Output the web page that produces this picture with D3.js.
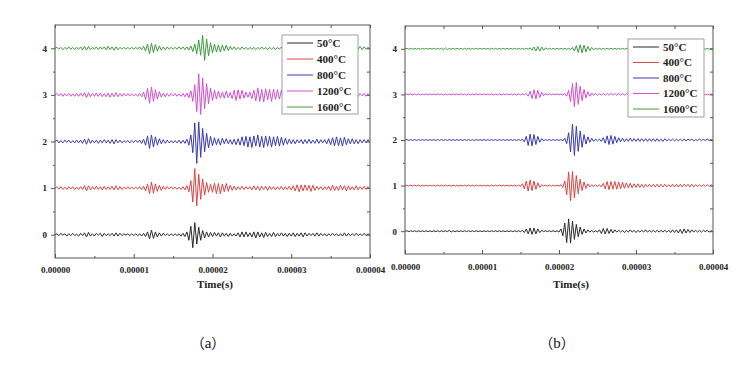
<!DOCTYPE html>
<html>
<head>
<meta charset="utf-8">
<script src="https://cdn.jsdelivr.net/npm/d3@7/dist/d3.min.js"></script>
<style>
  body { margin: 0; background: #fff; }
  text { font-family: "Liberation Serif", "Times New Roman", serif; }
</style>
</head>
<body>
<svg id="chart" width="750" height="370"></svg>
<script>
// labels / ticks
const seriesLabels = ["50°C", "400°C", "800°C", "1200°C", "1600°C"];
const seriesOffsets = [0, 1, 2, 3, 4];
const seriesColors = ["#2b2b2b", "#d94646", "#3a3ab0", "#d050d0", "#3f9a3f"];
const xTicks = [0, 1e-5, 2e-5, 3e-5, 4e-5];
const xMinorTicks = [0.5e-5, 1.5e-5, 2.5e-5, 3.5e-5];
const yTicks = [0, 1, 2, 3, 4];
const yMinorTicks = [0.5, 1.5, 2.5, 3.5];
const sampleStep = 2.5e-7;   // seconds between samples
const ampUnit = 0.01;        // samples are stored in hundredths

// (a) signals
const a50 = [0,2,-2,3,-1,2,-3,2,-2,3,-2,1,-3,3,-2,4,-5,5,-3,2,
  -3,3,-1,3,-4,3,-2,2,-2,3,-3,4,-3,3,-2,2,-1,2,-2,2,
  -2,2,-2,2,-3,3,-4,6,-9,10,-8,6,-5,4,-3,3,-2,2,-2,2,
  -2,2,-2,2,-3,3,-4,6,-12,18,-28,26,-20,16,-12,9,-7,6,-5,5,
  -4,5,-3,4,-5,4,-3,3,-4,3,-3,2,-3,4,-5,6,-5,6,-4,4,
  -5,6,-7,6,-5,4,-6,5,-4,3,-4,5,-4,3,-3,4,-3,3,-4,3,
  -3,4,-4,3,-3,4,-5,4,-3,3,-2,3,-3,4,-3,3,-2,2,-3,2,
  -2,3,-2,2,-3,2,-3,4,-3,3,-2,2,-2,3,-2,2,-2,3,-2,2,-1];
const a400 = [0,3,-2,3,-3,2,-3,3,-2,3,-3,2,-3,3,-3,5,-6,5,-4,3,
  -3,4,-3,3,-4,4,-3,3,-3,4,-4,5,-4,3,-3,2,-2,3,-2,2,
  -2,2,-2,3,-3,4,-6,9,-12,13,-11,9,-7,6,-5,4,-3,3,-2,3,
  -2,2,-3,2,-3,3,-4,5,-8,16,-30,42,-38,30,-24,20,-15,12,-9,8,
  -9,11,-12,10,-12,9,-8,10,-7,6,-5,4,-4,3,-3,4,-3,3,-2,3,
  -4,5,-4,4,-5,4,-3,4,-5,4,-3,3,-4,3,-3,4,-4,3,-3,4,
  -4,5,-6,7,-8,7,-6,7,-5,6,-7,6,-5,4,-3,3,-4,3,-3,4,
  -5,6,-5,4,-5,6,-4,5,-6,5,-4,3,-4,5,-4,3,-3,4,-3,3,-2];
const a800 = [0,3,-3,2,-3,3,-2,3,-3,2,-3,3,-3,3,-4,5,-6,6,-4,3,
  -3,3,-4,3,-3,4,-3,3,-4,4,-5,4,-3,3,-3,2,-2,2,-3,2,
  -2,3,-2,3,-4,5,-8,12,-15,14,-12,10,-8,6,-5,4,-4,3,-3,2,
  -3,2,-3,3,-4,3,-4,5,-8,14,-24,40,-47,42,-34,28,-22,18,-14,11,
  -9,8,-7,6,-8,7,-5,6,-5,4,-6,5,-7,6,-8,10,-9,11,-12,10,
  -13,12,-10,14,-12,11,-13,12,-10,11,-12,10,-9,11,-10,9,-8,7,-6,5,
  -5,4,-5,4,-3,4,-5,4,-4,5,-4,3,-4,5,-4,4,-3,4,-5,6,
  -7,8,-9,10,-9,8,-10,9,-7,6,-5,6,-5,4,-5,4,-3,4,-3,4,-3];
const a1200 = [0,3,-2,3,-3,3,-2,3,-3,2,-3,3,-3,4,-3,5,-6,5,-4,3,
  -3,4,-3,4,-4,3,-4,4,-5,4,-4,5,-4,3,-3,3,-2,3,-2,2,
  -2,2,-3,3,-4,6,-10,14,-18,17,-14,11,-9,7,-5,4,-4,3,-3,3,
  -2,3,-3,2,-3,3,-4,4,-6,9,-14,22,-36,45,-42,36,-30,24,-19,15,
  -12,10,-9,8,-7,6,-7,8,-6,5,-8,10,-12,11,-9,10,-7,6,-5,6,
  -8,10,-13,15,-14,12,-15,13,-11,12,-14,12,-10,11,-9,10,-8,9,-7,6,
  -5,6,-7,6,-5,4,-5,6,-5,4,-4,5,-4,3,-4,4,-3,4,-3,3,
  -4,3,-3,4,-3,3,-4,3,-3,4,-3,3,-4,3,-3,3,-2,3,-3,3,-2];
const a1600 = [0,2,-2,2,-3,2,-2,3,-2,2,-3,2,-2,3,-3,4,-4,4,-3,2,
  -2,3,-3,3,-2,3,-3,4,-3,3,-4,3,-3,2,-2,2,-2,2,-2,2,
  -2,2,-2,3,-3,4,-6,9,-12,11,-9,8,-6,5,-4,3,-3,3,-2,2,
  -2,2,-2,3,-2,3,-3,3,-4,5,-7,9,-12,18,-15,28,-26,20,-16,12,
  -10,9,-8,7,-8,7,-6,7,-5,4,-3,3,-3,2,-3,3,-2,2,-3,2,
  -2,2,-3,2,-2,3,-2,2,-3,2,-2,2,-3,2,-2,3,-2,2,-2,3,
  -2,2,-2,2,-3,2,-2,2,-2,3,-2,2,-2,2,-3,2,-2,2,-2,2,
  -2,3,-2,2,-2,2,-3,2,-2,2,-2,3,-2,2,-2,4,-3,3,-2,2,-2];

// (b) signals
const b50 = [0,1,-1,1,-1,1,-1,1,-1,1,-1,1,-1,1,-1,1,-1,1,-1,1,
  -1,1,-1,2,-2,1,-1,1,-1,1,-1,1,-1,1,-1,1,-1,1,-1,1,
  -1,1,-1,1,-1,1,-1,1,-1,1,-1,1,-1,1,-1,1,-1,1,-1,1,
  -1,2,-3,5,-6,7,-7,7,-6,5,-3,2,-1,1,-1,1,-1,1,-1,1,
  -2,5,-10,18,-25,27,-26,22,-18,15,-12,9,-7,5,-4,3,-2,2,-2,1,
  -2,3,-5,6,-6,6,-5,4,-4,3,-2,2,-2,2,-3,2,-2,3,-2,2,
  -3,2,-2,2,-2,3,-2,2,-2,2,-2,2,-2,2,-2,2,-2,2,-3,3,
  -3,3,-4,4,-5,5,-4,4,-3,3,-2,2,-2,2,-2,2,-1,2,-2,1,-1];
const b400 = [0,1,-1,1,-1,1,-1,1,-1,1,-1,1,-1,1,-1,1,-1,1,-1,1,
  -1,1,-1,1,-1,1,-1,1,-1,1,-1,1,-1,1,-1,1,-1,1,-1,1,
  -1,1,-1,1,-1,1,-1,1,-1,1,-1,1,-1,1,-1,1,-1,1,-1,1,
  -2,4,-7,10,-12,12,-11,10,-8,6,-4,2,-1,1,-1,1,-1,1,-1,1,
  -1,2,-4,10,-20,30,-33,31,-27,22,-18,14,-11,8,-6,4,-3,2,-2,2,
  -2,2,-3,5,-7,9,-9,9,-8,9,-8,8,-7,7,-6,6,-5,5,-5,4,
  -4,4,-4,3,-4,3,-3,3,-3,3,-3,3,-3,3,-3,3,-3,2,-3,3,
  -3,3,-3,3,-3,3,-2,3,-3,3,-3,2,-2,2,-2,2,-2,2,-2,2,-1];
const b800 = [0,1,-1,1,-1,1,-1,1,-1,1,-1,1,-1,1,-1,1,-1,1,-1,1,
  -1,1,-1,1,-1,1,-1,1,-1,1,-1,1,-1,1,-1,1,-1,1,-1,1,
  -1,1,-1,1,-1,1,-1,1,-1,1,-1,1,-1,1,-1,1,-1,1,-1,1,
  -1,2,-4,8,-12,13,-13,12,-10,8,-5,3,-2,1,-1,1,-1,1,-1,1,
  -1,1,-2,4,-8,16,-26,35,-34,30,-25,20,-16,12,-9,7,-5,4,-3,2,
  -2,2,-3,5,-7,9,-10,10,-9,8,-6,5,-4,4,-4,3,-3,4,-3,3,
  -3,3,-3,3,-3,3,-3,3,-3,3,-3,3,-3,2,-3,3,-2,2,-2,2,
  -2,2,-2,2,-2,2,-2,2,-1,2,-2,1,-1,2,-1,1,-1,2,-1,1,-1];
const b1200 = [0,1,-1,1,-1,1,-1,1,-1,1,-1,1,-1,1,-1,1,-1,1,-1,1,
  -1,1,-1,1,-1,1,-1,1,-1,1,-1,1,-1,1,-1,1,-1,1,-1,1,
  -1,1,-1,1,-1,1,-1,1,-1,1,-1,1,-1,1,-1,1,-1,1,-1,1,
  -1,1,-1,2,-4,7,-9,10,-10,9,-7,5,-3,2,-1,1,-1,1,-1,1,
  -1,1,-1,2,-4,9,-16,24,-27,26,-22,18,-14,11,-8,6,-4,3,-2,2,
  -2,2,-2,2,-2,2,-2,2,-2,2,-2,2,-2,2,-2,2,-2,2,-2,2,
  -1,1,-1,1,-1,1,-1,1,-1,1,-1,1,-1,1,-1,1,-1,1,-1,1,
  -1,1,-1,1,-1,1,-1,1,-1,1,-1,1,-1,1,-1,1,-1,1,-1,1,-1];
const b1600 = [0,1,-1,1,-1,1,-1,1,-1,1,-1,1,-1,1,-1,1,-1,1,-1,1,
  -2,2,-2,1,-1,1,-1,1,-1,1,-1,1,-1,1,-1,1,-1,1,-1,1,
  -1,1,-1,1,-1,1,-1,1,-1,1,-1,1,-1,1,-1,1,-1,1,-1,1,
  -1,1,-1,1,-1,2,-3,4,-5,5,-5,4,-3,2,-1,1,-1,1,-1,1,
  -1,1,-1,1,-1,1,-2,3,-5,7,-8,9,-9,8,-7,5,-4,3,-2,1,
  -1,1,-1,1,-1,1,-1,1,-1,1,-1,1,-1,1,-1,1,-1,1,-1,1,
  -1,1,-1,1,-1,1,-1,1,-1,1,-1,1,-1,1,-1,1,-1,1,-1,1,
  -1,1,-1,1,-1,1,-1,1,-1,1,-1,1,-1,1,-1,1,-1,1,-1,1,-1];

const panels = [
  {name: "a", series: [a50, a400, a800, a1200, a1600],
   box: {l: 55, r: 370, t: 25, b: 258}, tickY: 270, titleX: 215,
   legend: {x: 282, y: 35, w: 76, h: 79, row: 16},
   caption: {x: 208, y: 348}},
  {name: "b", series: [b50, b400, b800, b1200, b1600],
   box: {l: 405, r: 713, t: 26, b: 254}, tickY: 267, titleX: 571,
   legend: {x: 628, y: 39, w: 76, h: 78, row: 15.5},
   caption: {x: 557, y: 348}}
];

const svg = d3.select("#chart");
const axisColor = "#555";

panels.forEach(p => {
  const x = d3.scaleLinear().domain([0, 4e-5]).range([p.box.l, p.box.r]);
  const y = d3.scaleLinear().domain([-0.5, 4.5]).range([p.box.b, p.box.t]);
  const g = svg.append("g").attr("class", "panel-" + p.name);

  g.append("clipPath").attr("id", "clip-" + p.name)
    .append("rect")
    .attr("x", p.box.l).attr("y", p.box.t)
    .attr("width", p.box.r - p.box.l).attr("height", p.box.b - p.box.t);

  // traces
  const line = d3.line()
    .x((d, i) => x(i * sampleStep));
  const traces = g.append("g").attr("clip-path", "url(#clip-" + p.name + ")");
  p.series.forEach((vals, k) => {
    traces.append("path")
      .datum(vals)
      .attr("fill", "none")
      .attr("stroke", seriesColors[k])
      .attr("stroke-width", 1)
      .attr("stroke-linejoin", "round")
      .attr("d", line.y(v => y(seriesOffsets[k] + v * ampUnit)));
  });

  // frame
  g.append("rect")
    .attr("x", p.box.l).attr("y", p.box.t)
    .attr("width", p.box.r - p.box.l).attr("height", p.box.b - p.box.t)
    .attr("fill", "none").attr("stroke", axisColor).attr("stroke-width", 1);

  // axes
  const bottom = d3.axisBottom(x).tickValues(xTicks).tickSize(-4)
    .tickFormat(d3.format(".5f"));
  const gb = g.append("g").attr("transform", `translate(0,${p.box.b})`).call(bottom);
  gb.select(".domain").remove();
  gb.selectAll("line").attr("stroke", axisColor);
  gb.selectAll("text").attr("y", p.tickY - p.box.b).attr("dy", "0.35em")
    .attr("font-size", 9).attr("font-weight", "bold").attr("fill", "#222");

  const bMinor = g.append("g").attr("transform", `translate(0,${p.box.b})`)
    .call(d3.axisBottom(x).tickValues(xMinorTicks).tickSize(-2).tickFormat(""));
  bMinor.select(".domain").remove();
  bMinor.selectAll("line").attr("stroke", axisColor);

  const top = g.append("g").attr("transform", `translate(0,${p.box.t})`)
    .call(d3.axisTop(x).tickValues(xTicks.concat(xMinorTicks)).tickSize(-3).tickFormat(""));
  top.select(".domain").remove();
  top.selectAll("line").attr("stroke", axisColor);

  const left = d3.axisLeft(y).tickValues(yTicks).tickSize(4).tickPadding(4).tickFormat(d3.format("d"));
  const gl = g.append("g").attr("transform", `translate(${p.box.l},0)`).call(left);
  gl.select(".domain").remove();
  gl.selectAll("line").attr("stroke", axisColor);
  gl.selectAll("text").attr("font-size", 9).attr("font-weight", "bold").attr("fill", "#222");

  const lMinor = g.append("g").attr("transform", `translate(${p.box.l},0)`)
    .call(d3.axisLeft(y).tickValues(yMinorTicks).tickSize(2).tickFormat(""));
  lMinor.select(".domain").remove();
  lMinor.selectAll("line").attr("stroke", axisColor);

  const right = g.append("g").attr("transform", `translate(${p.box.r},0)`)
    .call(d3.axisRight(y).tickValues(yTicks.concat(yMinorTicks)).tickSize(-3).tickFormat(""));
  right.select(".domain").remove();
  right.selectAll("line").attr("stroke", axisColor);

  // x title
  g.append("text")
    .attr("x", p.titleX).attr("y", 288)
    .attr("text-anchor", "middle")
    .attr("font-size", 11).attr("font-weight", "bold").attr("fill", "#222")
    .text("Time(s)");

  // legend (opaque, hides the traces behind it)
  const lg = g.append("g");
  lg.append("rect")
    .attr("x", p.legend.x).attr("y", p.legend.y)
    .attr("width", p.legend.w).attr("height", p.legend.h)
    .attr("fill", "#fff").attr("stroke", "#888").attr("stroke-width", 0.8);
  seriesLabels.forEach((lab, k) => {
    const ry = p.legend.y + 8 + k * p.legend.row;
    lg.append("line")
      .attr("x1", p.legend.x + 5).attr("x2", p.legend.x + 31)
      .attr("y1", ry).attr("y2", ry)
      .attr("stroke", seriesColors[k]).attr("stroke-width", 1);
    lg.append("text")
      .attr("x", p.legend.x + 35).attr("y", ry).attr("dy", "0.35em")
      .attr("font-size", 11).attr("font-weight", "bold").attr("fill", "#222")
      .text(lab);
  });

  // caption: full-width brackets from the CJK font, letter in serif
  const cap = g.append("text")
    .attr("x", p.caption.x).attr("y", p.caption.y)
    .attr("text-anchor", "middle")
    .attr("font-size", 14).attr("fill", "#111");
  cap.append("tspan").style("font-family", "'Noto Sans CJK SC'").text("（");
  cap.append("tspan").style("font-family", "'Liberation Serif', serif").attr("font-size", 15).text(p.name);
  cap.append("tspan").style("font-family", "'Noto Sans CJK SC'").text("）");
});
</script>
</body>
</html>
